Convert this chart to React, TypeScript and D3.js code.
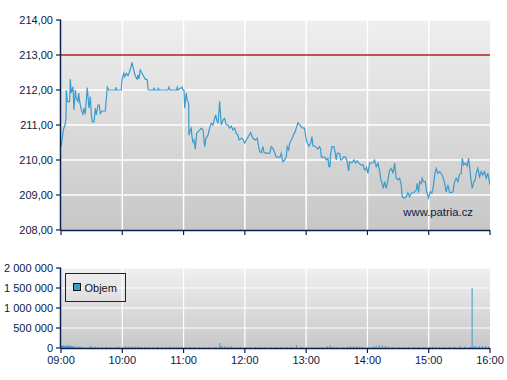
import React from "react";
import * as d3 from "d3";

// ---- data ----
const hourLabels = ["09:00", "10:00", "11:00", "12:00", "13:00", "14:00", "15:00", "16:00"];
const hourMinutes = [0, 60, 120, 180, 240, 300, 360, 420];
const priceTicks = [208, 209, 210, 211, 212, 213, 214];
const volumeTicks = [0, 500000, 1000000, 1500000, 2000000];
const referenceLevel = 213;

// minutes after 09:00
const priceTimes = [
  0, 1, 2.3, 3.9, 4.9, 5.2, 6.2, 8.5, 9.1, 10.1, 11.7, 12.7, 14, 15, 16.6, 17.3, 18.3, 19.9, 21.5, 22.5,
  23.8, 25.7, 27.4, 28.7, 29.7, 30.6, 32.3, 33.6, 34.6, 36.2, 37.5, 38.5, 40.1, 43.4, 45.3, 46.7, 53.5, 53.8, 54.8, 59,
  59.7, 61.4, 62.3, 63.9, 65.6, 66.6, 68.2, 69.5, 70.5, 71.5, 73.1, 74.4, 75.4, 76.3, 77.6, 79.3, 81.2, 82.5, 84.5, 85.2,
  86.1, 90.7, 91, 91.7, 94.9, 95.2, 95.9, 104.7, 105.7, 106.7, 113, 113.8, 114.5, 118.4, 119.4, 120.4, 121.1, 122.6, 123.6, 125,
  125.3, 126.6, 127.5, 128.2, 129.2, 130.2, 131.5, 132.8, 134.1, 136, 137.3, 139, 140, 140.7, 141.9, 143.9, 145.5, 147.1, 148.8, 150.4,
  151.4, 152.4, 153.7, 154.6, 155.3, 155.9, 156.9, 158.6, 160.2, 161.8, 163.5, 165.1, 166.7, 168.4, 170, 171.6, 173.2, 174.2, 176.5, 178.1,
  179.8, 181.4, 183, 185.7, 187.9, 190.2, 192.1, 193.5, 194.5, 196.1, 197.7, 198.7, 202.6, 204.3, 205.8, 207.5, 209.2, 210.7, 214.4, 215.6,
  217.3, 219, 220.5, 221.5, 222.9, 223.8, 225.4, 227.1, 228.1, 229.3, 230.3, 232, 233.6, 235.2, 236.9, 238.5, 240.1, 241.1, 242.7, 244.4,
  245.7, 246.6, 248.3, 249.9, 251.5, 253.2, 254.2, 254.8, 258.1, 259.7, 261.3, 262.3, 263.3, 264, 265.3, 267.2, 268.5, 269.5, 270.4, 272.8,
  273.8, 275, 276.3, 278.7, 280.2, 281.6, 282.6, 284.8, 286.8, 288.4, 290, 291.7, 293.3, 295.6, 296.6, 297.8, 299.2, 300.5, 302.2, 305.4,
  307, 308.6, 310.3, 311.9, 312.9, 314.2, 315.5, 316.8, 318.4, 320.1, 321.7, 323.3, 325, 326.6, 328.2, 329.9, 331.5, 333.1, 334.1, 335.7,
  338, 339.6, 341.3, 342.9, 345.5, 347.8, 348.7, 350.1, 351.1, 352.7, 353.6, 355, 356.6, 358.2, 359.9, 361.5, 363.1, 364.8, 365.8, 367.3,
  369, 370.7, 372.2, 373.9, 375.6, 377.1, 378.8, 380.5, 382, 383.7, 385.3, 386.9, 388.6, 390.2, 391.8, 392.8, 394.2, 395.7, 397.7, 399,
  400, 401.6, 402.6, 404.2, 405.5, 406.5, 408.1, 409.8, 411.4, 413, 414.7, 416.3, 417.9, 419.6, 420,
];
const priceValues = [
  210.38, 210.57, 210.86, 211.0, 211.2, 212.0, 211.67, 211.67, 212.31, 211.91, 212.09, 211.43, 212.0, 211.76, 211.67, 211.91, 211.67, 211.43, 211.31, 211.48,
  211.31, 212.07, 211.48, 211.81, 211.29, 211.09, 211.09, 211.48, 211.29, 211.57, 211.57, 211.33, 211.4, 211.4, 212.08, 212.0, 212.0, 212.08, 212.0, 212.0,
  212.29, 212.48, 212.38, 212.48, 212.41, 212.48, 212.62, 212.79, 212.67, 212.52, 212.38, 212.31, 212.43, 212.31, 212.57, 212.48, 212.38, 212.31, 212.29, 212.02,
  212.0, 212.0, 212.07, 212.0, 212.0, 212.07, 212.0, 212.0, 212.08, 212.0, 212.0, 212.08, 212.0, 212.08, 212.0, 212.0, 211.48, 211.91, 211.71, 211.62,
  210.71, 210.86, 210.91, 210.67, 210.52, 210.57, 210.31, 210.76, 210.81, 210.86, 210.91, 210.86, 210.57, 210.38, 210.62, 210.71, 210.91, 211.05, 211.0, 211.19,
  211.29, 211.14, 211.05, 211.38, 211.67, 211.43, 211.0, 211.14, 211.19, 211.0, 211.0, 210.91, 210.97, 210.86, 210.91, 210.76, 210.71, 210.57, 210.62, 210.59,
  210.48, 210.57, 210.65, 210.78, 210.62, 210.57, 210.62, 210.38, 210.24, 210.21, 210.38, 210.21, 210.19, 210.19, 210.38, 210.33, 210.21, 210.08, 210.08, 210.19,
  209.95, 210.0, 210.09, 210.38, 210.29, 210.48, 210.57, 210.67, 210.76, 210.81, 210.91, 211.07, 211.0, 210.95, 210.91, 210.91, 210.57, 210.48, 210.4, 210.48,
  210.67, 210.4, 210.4, 210.36, 210.31, 210.38, 210.31, 210.08, 210.08, 210.0, 210.05, 209.81, 209.81, 210.19, 210.38, 210.38, 210.19, 210.0, 210.19, 210.19,
  210.0, 210.0, 210.08, 210.08, 209.95, 209.69, 209.95, 209.92, 210.0, 209.91, 209.98, 209.91, 209.86, 209.86, 209.76, 209.71, 209.79, 209.62, 209.91, 209.92,
  210.0, 209.81, 209.91, 209.69, 209.48, 209.33, 209.19, 209.38, 209.19, 209.43, 209.71, 209.76, 209.62, 209.91, 209.48, 209.43, 209.48, 209.29, 208.95, 208.91,
  208.95, 209.07, 208.95, 209.05, 209.07, 209.14, 209.33, 209.07, 209.38, 209.33, 209.48, 209.38, 209.38, 209.07, 208.91, 209.09, 209.05, 209.29, 209.57, 209.76,
  209.62, 209.67, 209.62, 209.52, 209.33, 209.09, 209.29, 209.07, 209.07, 209.09, 209.38, 209.48, 209.38, 209.59, 209.62, 210.05, 209.86, 209.91, 209.83, 210.05,
  209.81, 209.38, 209.19, 209.38, 209.43, 209.62, 209.76, 209.52, 209.67, 209.57, 209.67, 209.48, 209.62, 209.35, 209.29,
];

const volumeTimes = [
  0, 1, 2, 3, 4, 5, 6, 7, 8, 9, 10, 11, 12, 14, 16, 18, 20, 24, 28, 30,
  33, 36, 40, 44, 48, 52, 56, 60, 63, 66, 69, 72, 75, 78, 82, 86, 90, 94, 98, 102,
  106, 110, 114, 118, 122, 126, 130, 135, 140, 145, 150, 155, 157, 160, 163, 166, 170, 175, 180, 185,
  190, 195, 200, 205, 210, 215, 220, 225, 230, 235, 240, 245, 250, 255, 260, 263, 266, 270, 275, 280,
  283, 286, 289, 292, 295, 300, 305, 308, 311, 314, 317, 320, 325, 330, 335, 340, 345, 350, 355, 360,
  363, 366, 370, 375, 380, 385, 390, 395, 400, 402, 404, 406, 409, 412, 415, 418,
];
const volumeValues = [
  60000, 45000, 70000, 55000, 40000, 65000, 50000, 75000, 60000, 45000, 55000, 35000, 50000, 40000, 30000, 45000, 25000, 20000, 55000, 40000,
  30000, 20000, 25000, 30000, 25000, 20000, 35000, 30000, 45000, 40000, 35000, 30000, 40000, 25000, 30000, 20000, 25000, 30000, 20000, 25000,
  35000, 20000, 25000, 30000, 20000, 25000, 15000, 20000, 15000, 20000, 25000, 125000, 60000, 40000, 35000, 45000, 20000, 15000, 20000, 15000,
  25000, 20000, 15000, 25000, 20000, 25000, 30000, 35000, 70000, 25000, 15000, 10000, 15000, 20000, 45000, 65000, 30000, 20000, 25000, 35000,
  40000, 45000, 35000, 30000, 25000, 30000, 35000, 55000, 70000, 65000, 50000, 35000, 20000, 25000, 15000, 25000, 20000, 25000, 15000, 30000,
  35000, 25000, 20000, 30000, 25000, 35000, 40000, 35000, 30000, 1500000, 55000, 40000, 45000, 50000, 40000, 35000,
];

const legendLabel = "Objem";
const watermark = "www.patria.cz";

// ---- styling ----
const AXIS = "#0a2050";
const TEXT = "#0b1a45";
const LINE = "#3a9ccf";
const RED = "#b01f1f";
const FONT = "Arial, 'Liberation Sans', sans-serif";
const FS = 11;

const W = 507;
const H = 380;
const left = 61;
const right = 490;
const topY = 20;
const topBottom = 230;
const volTop = 268;
const volBottom = 348;

const fmtPrice = (v: number) => v.toFixed(2).replace(".", ",");
const fmtVol = (v: number) => String(v).replace(/\B(?=(\d{3})+(?!\d))/g, " ");

export default function App() {
  const x = d3.scaleLinear().domain([0, 420]).range([left, right]);
  const yP = d3.scaleLinear().domain([208, 214]).range([topBottom, topY]);
  const yV = d3.scaleLinear().domain([0, 2000000]).range([volBottom, volTop]);

  const pts = priceTimes.map((t, i) => [t, priceValues[i]] as [number, number]);
  const path = d3
    .line<[number, number]>()
    .x((d) => x(d[0]))
    .y((d) => yP(d[1]))(pts) as string;

  return (
    <svg
      width={W}
      height={H}
      style={{ position: "absolute", left: 0, top: 0, fontFamily: FONT }}
    >
      <defs>
        <linearGradient id="bg1" x1="0" y1="0" x2="0" y2="1">
          <stop offset="0" stopColor="#efefef" />
          <stop offset="1" stopColor="#c7c7c7" />
        </linearGradient>
        <linearGradient id="bg2" x1="0" y1="0" x2="0" y2="1">
          <stop offset="0" stopColor="#f0f0f0" />
          <stop offset="1" stopColor="#c8c8c8" />
        </linearGradient>
        <clipPath id="clipTop">
          <rect x={left} y={topY} width={right - left} height={topBottom - topY} />
        </clipPath>
      </defs>
      <rect width={W} height={H} fill="#ffffff" />

      {/* ---------- price panel ---------- */}
      <rect x={left} y={topY} width={right - left} height={topBottom - topY} fill="url(#bg1)" />
      <line x1={left} x2={right} y1={topY + 0.5} y2={topY + 0.5} stroke="#f6f8fb" />
      {priceTicks
        .filter((v) => v !== 208 && v !== 214 && v !== referenceLevel)
        .map((v) => (
          <line key={v} x1={left} x2={right} y1={yP(v)} y2={yP(v)} stroke="#ffffff" strokeWidth={1.5} />
        ))}
      {hourMinutes.slice(1, -1).map((m) => (
        <line key={m} x1={x(m)} x2={x(m)} y1={topY} y2={topBottom} stroke="#ffffff" strokeWidth={1.5} />
      ))}
      <line x1={left} x2={right} y1={yP(referenceLevel)} y2={yP(referenceLevel)} stroke={RED} strokeWidth={1.5} />
      <path d={path} fill="none" stroke={LINE} strokeWidth={1.2} clipPath="url(#clipTop)" />
      <text x={473} y={216} fontSize={11.3} fill={TEXT} textAnchor="end">
        {watermark}
      </text>
      {/* axes */}
      <line x1={left - 0.5} x2={left - 0.5} y1={topY} y2={topBottom} stroke={AXIS} strokeWidth={1.5} />
      <line x1={left} x2={right} y1={topBottom + 0.5} y2={topBottom + 0.5} stroke={AXIS} strokeWidth={1.5} />
      {priceTicks.map((v) => (
        <g key={v}>
          <line x1={left - 5} x2={left} y1={yP(v)} y2={yP(v)} stroke={AXIS} strokeWidth={1.2} />
          <text x={53} y={yP(v) + 4.2} fontSize={FS} fill={TEXT} textAnchor="end">
            {fmtPrice(v)}
          </text>
        </g>
      ))}
      {hourMinutes.map((m) => (
        <line key={m} x1={x(m)} x2={x(m)} y1={topBottom} y2={topBottom + 5} stroke={AXIS} strokeWidth={1.2} />
      ))}

      {/* ---------- volume panel ---------- */}
      <rect x={left} y={volTop} width={right - left} height={volBottom - volTop} fill="url(#bg2)" />
      <line x1={left} x2={right} y1={volTop + 0.5} y2={volTop + 0.5} stroke="#f6f8fb" />
      {volumeTicks
        .filter((v) => v !== 0 && v !== 2000000)
        .map((v) => (
          <line key={v} x1={left} x2={right} y1={yV(v)} y2={yV(v)} stroke="#ffffff" strokeWidth={1.2} />
        ))}
      {hourMinutes.slice(1, -1).map((m) => (
        <line key={m} x1={x(m)} x2={x(m)} y1={volTop} y2={volBottom} stroke="#ffffff" strokeWidth={1.2} />
      ))}
      {volumeTimes.map((t, i) => (
        <rect
          key={i}
          x={x(t)}
          y={yV(volumeValues[i])}
          width={1}
          height={yV(0) - yV(volumeValues[i])}
          fill={LINE}
        />
      ))}
      {/* legend */}
      <rect x={65.5} y={273.5} width={60} height={28} fill="none" stroke="#222222" strokeWidth={1} />
      <rect x={73.5} y={283.5} width={7} height={7} fill={LINE} stroke="#111111" strokeWidth={1} />
      <text x={84.5} y={291.5} fontSize={FS} fill="#111111">
        {legendLabel}
      </text>
      {/* axes */}
      <line x1={left - 0.5} x2={left - 0.5} y1={volTop} y2={volBottom} stroke={AXIS} strokeWidth={1.5} />
      <line x1={left} x2={right} y1={volBottom + 0.5} y2={volBottom + 0.5} stroke={AXIS} strokeWidth={1.5} />
      {volumeTicks.map((v) => (
        <g key={v}>
          <line x1={left - 5} x2={left} y1={yV(v)} y2={yV(v)} stroke={AXIS} strokeWidth={1.2} />
          <text x={53} y={yV(v) + 4.2} fontSize={FS} fill={TEXT} textAnchor="end">
            {fmtVol(v)}
          </text>
        </g>
      ))}
      {hourMinutes.map((m, i) => (
        <g key={m}>
          <line x1={x(m)} x2={x(m)} y1={volBottom} y2={volBottom + 5} stroke={AXIS} strokeWidth={1.2} />
          <text x={x(m)} y={364} fontSize={FS} fill={TEXT} textAnchor="middle">
            {hourLabels[i]}
          </text>
        </g>
      ))}
    </svg>
  );
}
